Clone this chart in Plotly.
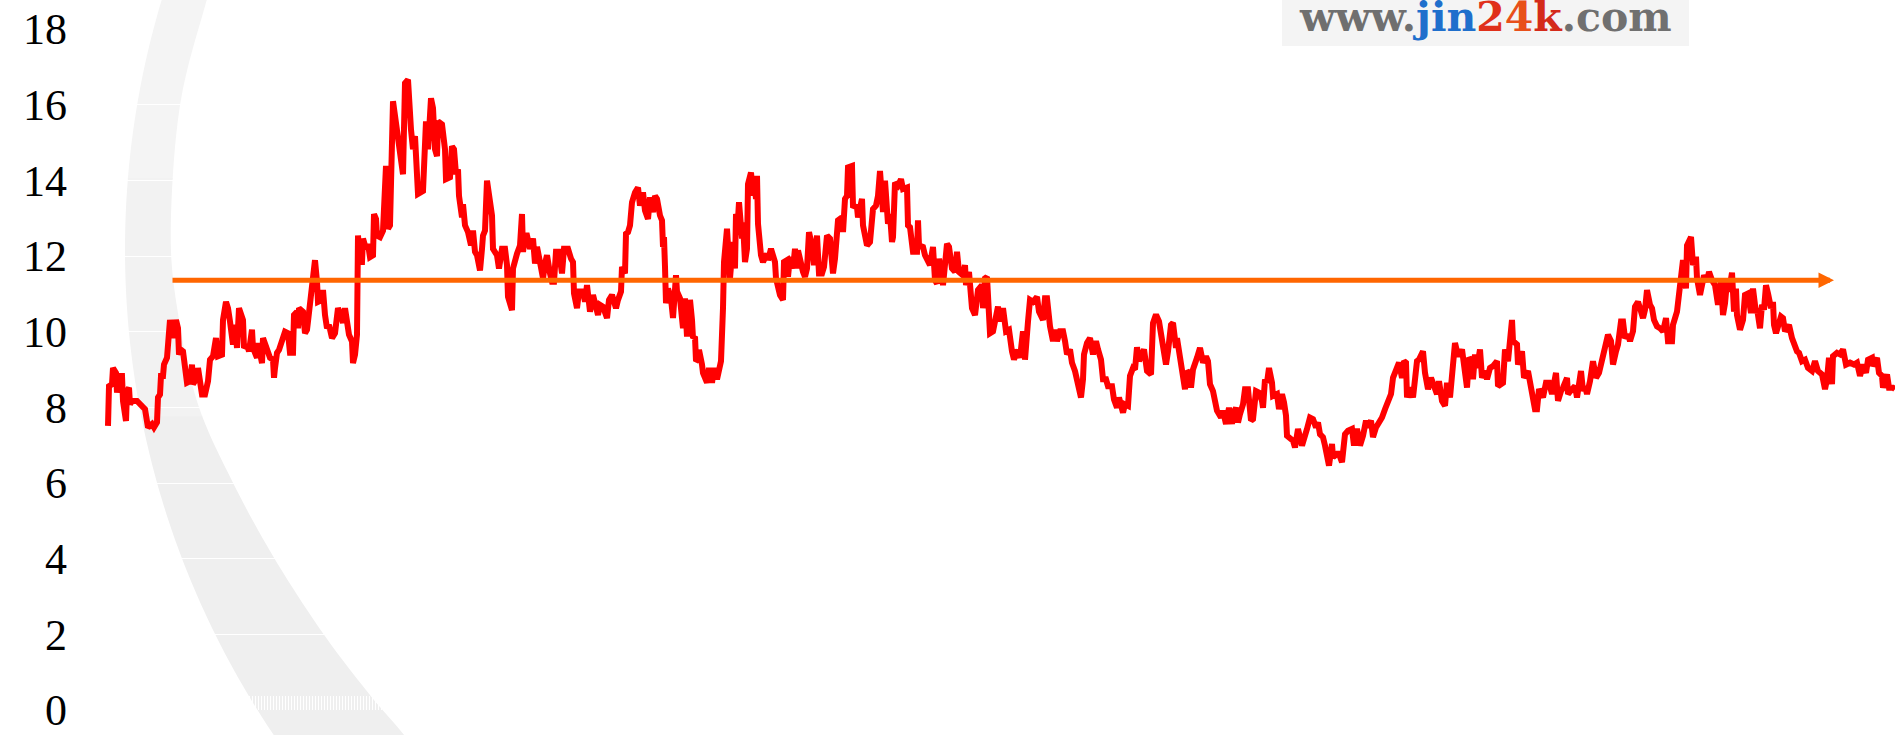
import math
import plotly.graph_objects as go

# ---------------- data ----------------
# T: trading-day index, V: ratio value
T = [0,1,4,5,8,9,12,14,15,18,19,21,22,24,29,32,37,40,44,46,49,50,52,53,55,56,59,62,65,68,70,71,73,75,77,79,82,84,85,89,90,94,97,100,102,105,108,110,114,115,118,120,122,125,127,129,131,135,136,139,141,144,145,149,150,154,155,159,162,165,166,167,169,171,174,177,180,182,185,186,189,190,191,195,197,199,200,202,203,205,207,209,210,214,215,217,219,221,224,227,229,230,233,235,237,239,241,244,245,247,249,250,252,254,255,258,260,262,265,266,268,269,272,275,276,278,280,282,285,290,295,297,300,303,305,307,310,315,318,320,323,325,327,329,330,334,337,338,342,344,346,348,350,351,354,355,357,360,363,365,367,369,372,374,375,377,379,384,385,389,391,394,397,399,400,404,405,409,412,414,415,417,419,422,425,427,429,432,435,437,439,442,444,446,448,451,454,456,460,463,465,466,469,471,475,477,479,482,
     485,490,492,495,499,501,504,505,508,510,513,514,517,518,520,522,524,527,530,532,535,537,540,542,545,547,549,552,554,555,556,557,558,560,563,565,568,569,572,575,577,579,582,584,585,587,588,590,591,594,595,599,601,604,606,609,613,615,616,619,622,625,627,628,630,631,634,635,637,639,640,643,645,646,648,649,650,653,655,659,660,663,665,667,668,672,675,676,679,680,682,685,687,689,690,693,695,697,699,701,704,706,709,711,714,716,719,722,725,727,729,730,734,735,737,739,740,744,745,749,750,754,755,757,759,762,763,765,768,770,772,774,775,777,779,780,782,784,785,787,790,793,795,799,800,802,804,805,809,810,811,815,817,819,822,825,827,829,831,834,835,839,841,844,847,849,851,855,857,858,861,864,867,870,874,875,877,879,882,885,887,890,892,895,898,901,904,906,909,912,915,917,920,922,925,929,931,935,937,939,
     942,945,947,949,952,955,957,959,962,964,967,969,973,975,976,979,982,985,988,990,993,995,998,1000,1004,1006,1009,1011,1015,1017,1020,1022,1025,1027,1029,1031,1034,1036,1039,1043,1045,1048,1051,1054,1056,1058,1060,1063,1065,1068,1069,1072,1075,1077,1079,1081,1083,1085,1089,1092,1095,1098,1100,1102,1105,1107,1109,1113,1115,1118,1121,1124,1125,1128,1130,1132,1135,1137,1140,1143,1145,1148,1151,1154,1155,1157,1159,1161,1164,1165,1169,1171,1174,1176,1178,1179,1182,1185,1187,1190,1194,1197,1199,1202,1205,1208,1210,1212,1215,1217,1219,1221,1224,1225,1229,1231,1234,1235,1237,1240,1244,1246,1249,1252,1255,1258,1260,1263,1265,1268,1270,1274,1277,1280,1283,1285,1287,1291,1294,1296,1298,1299,1302,1305,1307,1309,1311,1315,1317,1320,1323,1325,1329,1331,1334,1337,1339,1342,1345,1347,1349,1351,1354,1356,1359,1361,1364,1365,1367,1369,1372,1374,1377,1379,1382,1385,1389,1390,
     1395,1397,1400,1404,1405,1409,1410,1414,1416,1420,1424,1427,1429,1431,1435,1438,1441,1444,1448,1450,1453,1455,1459,1460,1464,1467,1469,1473,1475,1477,1479,1482,1485,1488,1491,1495,1497,1500,1503,1505,1508,1510,1513,1515,1517,1520,1522,1525,1527,1530,1532,1535,1537,1539,1542,1544,1546,1549,1552,1555,1558,1560,1564,1565,1569,1572,1575,1578,1579,1583,1585,1588,1589,1592,1596,1599,1601,1604,1607,1610,1613,1615,1617,1619,1621,1624,1626,1628,1629,1632,1635,1637,1640,1643,1645,1648,1649,1652,1654,1656,1658,1660,1663,1665,1666,1668,1670,1673,1675,1677,1679,1681,1684,1686,1689,1691,1694,1697,1700,1704,1707,1710,1714,1717,1719,1721,1724,1725,1729,1732,1735,1738,1742,1746,1749,1752,1755,1758,1760,1764,1765,1769,1771,1774,1775,1779,1781,1785,1787]

V = [7.51,8.56,8.61,9.04,8.91,8.39,8.83,8.83,8.17,7.64,8.43,8.52,8.08,8.17,8.17,8.08,7.95,7.47,7.56,7.47,7.60,8.26,8.34,8.83,8.83,9.13,9.31,10.31,9.83,10.31,10.09,9.39,9.52,9.48,8.83,8.65,8.69,9.13,8.61,8.78,9.04,8.34,8.34,8.69,9.26,9.35,9.83,9.35,9.39,10.31,10.79,10.62,10.27,9.66,10.18,9.57,10.62,10.31,9.57,9.66,9.48,10.05,9.57,9.31,9.70,9.17,9.83,9.57,9.31,9.26,8.78,9.04,9.44,9.52,9.74,10.00,9.96,9.44,9.44,10.44,10.53,10.09,10.62,10.53,9.96,10.05,10.27,10.79,11.23,11.41,11.89,11.32,10.79,10.84,11.10,10.44,10.09,10.18,9.83,9.96,10.36,10.62,10.44,10.23,10.62,10.18,9.92,9.74,9.17,9.39,9.92,12.54,11.84,11.84,12.46,12.19,12.32,11.97,12.02,13.11,12.98,12.54,12.50,12.67,13.72,14.38,12.72,12.81,16.09,14.99,14.16,16.57,16.66,15.34,14.82,15.17,13.64,13.72,15.56,14.82,16.17,15.91,14.82,14.64,15.56,15.48,14.82,14.03,14.08,14.90,14.82,14.16,14.29,13.59,13.02,13.37,12.81,12.63,12.28,12.67,12.11,12.02,11.62,12.19,12.54,12.67,13.99,13.07,12.19,12.02,11.67,12.19,12.19,11.76,10.92,10.57,11.67,12.06,12.28,13.11,12.11,12.54,12.54,12.19,12.46,11.80,12.24,11.84,11.41,11.80,12.02,11.54,11.32,11.32,12.11,12.11,11.54,12.19,12.19,11.93,11.84,11.01,10.62,11.06,11.06,10.79,11.23,10.53,
     10.97,10.44,10.71,10.66,10.36,10.84,10.97,10.88,10.62,10.84,11.06,11.71,11.54,12.59,12.63,12.81,13.42,13.68,13.81,13.33,13.68,13.20,12.98,13.55,13.16,13.59,13.51,13.07,12.94,12.24,12.50,11.71,10.75,11.14,10.88,10.36,11.49,11.06,10.88,10.09,10.88,9.87,10.84,10.31,9.83,9.87,9.22,9.26,9.52,9.13,8.91,8.65,9.04,8.65,9.04,8.74,9.22,10.62,11.84,12.72,11.41,12.37,11.67,13.11,12.98,13.42,12.46,12.89,11.84,12.19,13.90,14.21,13.59,14.03,13.51,14.12,12.85,12.02,11.84,12.06,11.89,12.19,11.93,11.84,11.41,10.97,10.84,11.84,11.89,11.45,11.97,11.67,12.19,11.67,12.15,11.67,11.58,11.45,11.67,12.63,12.28,11.76,12.54,11.54,11.54,11.71,12.54,12.46,11.54,11.93,12.46,12.94,13.02,12.63,13.51,13.59,14.34,14.38,13.33,13.29,13.02,13.51,12.81,12.50,12.28,12.37,12.67,13.24,13.33,13.59,14.25,13.59,13.16,13.99,13.24,12.85,13.11,12.37,12.50,13.94,13.86,14.03,13.77,13.81,12.81,12.76,12.37,12.11,12.11,12.94,12.28,12.24,12.02,11.93,11.76,12.24,11.36,11.27,11.93,11.41,11.23,12.32,12.24,11.67,11.58,12.11,11.58,11.49,11.76,11.23,11.58,10.62,10.44,11.10,11.23,10.62,11.41,11.45,9.96,10.01,10.31,10.66,10.27,10.62,10.01,10.05,9.48,9.26,9.52,9.31,10.01,9.26,10.27,10.84,10.79,10.92,10.53,10.31,10.88,10.88,
     10.14,9.75,10.05,9.75,10.01,10.01,9.75,9.40,9.53,9.18,8.96,8.65,8.26,8.74,9.40,9.70,9.83,9.40,9.75,9.53,9.26,8.74,8.74,8.56,8.56,8.21,7.99,8.26,7.86,8.08,8.04,8.83,9.04,9.00,9.59,9.22,9.48,9.53,8.96,8.87,10.23,10.45,10.27,9.83,9.53,9.13,9.48,10.18,10.23,9.57,9.83,9.22,8.78,8.48,8.96,8.91,8.52,9.00,9.31,9.57,9.18,9.35,9.22,8.61,8.43,8.13,7.91,7.73,7.91,7.56,7.99,7.56,7.82,7.99,7.60,7.82,8.08,8.48,8.48,7.65,7.69,8.43,8.39,8.17,7.99,8.74,8.65,9.04,8.65,8.30,8.35,7.95,8.35,8.13,7.78,7.25,7.16,7.12,6.94,7.43,6.99,7.21,7.43,7.73,7.69,7.47,7.60,7.29,7.21,6.99,6.68,6.46,7.03,6.68,6.77,6.77,6.55,6.94,7.29,7.38,7.43,6.99,7.43,6.99,7.25,7.65,7.47,7.65,7.21,7.47,7.56,7.73,7.95,8.21,8.35,8.78,8.96,9.18,8.78,9.22,9.18,8.26,8.52,8.26,8.74,9.22,9.26,9.48,8.91,8.48,8.78,8.61,8.35,8.69,8.17,8.04,8.65,8.26,8.96,9.70,9.48,9.35,9.53,9.13,8.52,9.31,9.22,8.74,9.40,9.04,9.53,8.78,8.96,8.74,9.04,9.09,9.22,8.56,
     8.65,9.53,9.22,10.31,9.75,9.66,9.13,9.48,8.78,8.96,8.26,7.95,7.95,8.48,8.26,8.65,8.65,8.35,8.91,8.17,8.43,8.52,8.78,8.35,8.48,8.56,8.26,8.96,8.43,8.56,8.35,8.69,9.22,8.78,8.91,9.31,9.66,9.92,9.75,9.13,9.48,9.66,10.27,10.27,9.83,9.92,9.75,10.01,10.66,10.79,10.62,10.36,10.58,11.10,10.71,10.62,10.31,10.14,10.09,10.01,10.36,9.75,9.75,10.18,10.53,11.14,11.89,11.14,12.28,12.50,11.76,11.98,11.41,10.97,11.49,11.32,11.58,11.36,11.23,10.71,11.32,10.44,10.75,11.32,11.06,11.56,10.53,11.14,10.44,10.05,10.31,10.97,11.01,10.49,11.14,10.49,10.62,10.09,10.71,10.58,11.23,11.01,10.62,10.79,10.18,9.96,10.14,10.40,10.36,10.01,10.09,10.18,9.83,9.66,9.48,9.44,9.22,9.26,9.04,8.96,9.22,8.96,8.87,8.48,8.74,9.31,8.61,9.35,9.44,9.40,9.53,9.13,9.18,9.13,9.18,8.83,9.13,8.91,9.26,9.31,9.09,9.31,8.91,8.83,8.52,8.87,8.52,8.52,8.48]

AVG_LEVEL = 11.36          # level of the orange arrow
ARROW_FROM = 63            # day index where the arrow starts
ARROW_TO = 1726            # day index of the arrow tip

Y_TICKS = [0, 2, 4, 6, 8, 10, 12, 14, 16, 18]
Y_LABELS = [str(v) for v in Y_TICKS]

# ---------------- layout geometry ----------------
W, H = 1895, 735
ML, MR, MT, MB = 72, 0, 29, 20
PLOT_W = W - ML - MR
PLOT_H = H - MT - MB
X_RANGE = [-36, 1787]


def px2paper(px, py):
    return (px - ML) / PLOT_W, (H - MB - py) / PLOT_H


def catmull(points, n=8):
    out = []
    pts = [points[0]] + points + [points[-1]]
    for i in range(1, len(pts) - 2):
        p0, p1, p2, p3 = pts[i - 1], pts[i], pts[i + 1], pts[i + 2]
        for k in range(n):
            t = k / n
            t2, t3 = t * t, t * t * t
            x = 0.5 * ((2 * p1[0]) + (-p0[0] + p2[0]) * t + (2 * p0[0] - 5 * p1[0] + 4 * p2[0] - p3[0]) * t2 + (-p0[0] + 3 * p1[0] - 3 * p2[0] + p3[0]) * t3)
            y = 0.5 * ((2 * p1[1]) + (-p0[1] + p2[1]) * t + (2 * p0[1] - 5 * p1[1] + 4 * p2[1] - p3[1]) * t2 + (-p0[1] + 3 * p1[1] - 3 * p2[1] + p3[1]) * t3)
            out.append((x, y))
    out.append(points[-1])
    return out


OCX, OCY, ORAD = 1004.0, 251.0, 879.0
INNER = catmull([(211, -12), (206.7, 0), (180, 105.5), (170.7, 234), (178.7, 320),
                 (198.3, 408), (233.3, 486.7), (275, 563.3), (323.3, 638.3),
                 (370, 700), (400, 735), (409, 748)])


def outer_x(py):
    return OCX - math.sqrt(ORAD ** 2 - (py - OCY) ** 2)


def inner_x(py):
    for (xa, ya), (xb, yb) in zip(INNER[:-1], INNER[1:]):
        if ya <= py <= yb and yb > ya:
            return xa + (xb - xa) * (py - ya) / (yb - ya)
    return INNER[0][0] if py < INNER[0][1] else INNER[-1][0]


def band_path(ya, yb, n=40):
    ys = [ya + i * (yb - ya) / n for i in range(n + 1)]
    pts = [px2paper(outer_x(y), y) for y in ys] + [px2paper(inner_x(y), y) for y in reversed(ys)]
    return "M " + " L ".join(f"{x:.5f},{y:.5f}" for x, y in pts) + " Z"


fig = go.Figure()

fig.add_trace(go.Scatter(
    x=T, y=V, mode="lines",
    line=dict(color="#ff0000", width=6),
    hoverinfo="x+y", showlegend=False,
))

fig.add_annotation(
    x=ARROW_TO, y=AVG_LEVEL, ax=ARROW_FROM, ay=AVG_LEVEL,
    xref="x", yref="y", axref="x", ayref="y",
    text="", showarrow=True, arrowhead=2, arrowsize=0.62,
    arrowwidth=5, arrowcolor="#ff6600",
)

# decorative grey crescent, slightly lighter towards the top
shapes = []
for ya, yb, col in [(-12, 180, "#f4f4f4"), (179, 420, "#f2f2f2"), (419, 748, "#efefef")]:
    shapes.append(dict(type="path", path=band_path(ya, yb), xref="paper", yref="paper",
                       fillcolor=col, line=dict(width=0), layer="below"))

# watermark box
x0, y0 = px2paper(1282, -5)
x1, y1 = px2paper(1689, 46)
shapes.append(dict(type="rect", xref="paper", yref="paper", x0=x0, x1=x1, y0=y1, y1=y0,
                   fillcolor="#f4f4f4", line=dict(width=0), layer="below"))

wx, wy = px2paper(1485, 17)
fig.add_annotation(
    x=wx, y=wy, xref="paper", yref="paper", xanchor="center", yanchor="middle",
    showarrow=False,
    text=('<span style="color:#6f6f6f">www.</span>'
          '<span style="color:#1f6fcc">jin</span>'
          '<span style="color:#e0301a">2</span>'
          '<span style="color:#e8501a">4</span>'
          '<span style="color:#d42a1a">k</span>'
          '<span style="color:#707070">.com</span>'),
    font=dict(family="DejaVu Serif", size=41, weight="bold"),
)

fig.update_layout(
    width=W, height=H,
    margin=dict(l=ML, r=MR, t=MT, b=MB, pad=0),
    paper_bgcolor="white", plot_bgcolor="white",
    shapes=shapes,
    showlegend=False,
    xaxis=dict(range=X_RANGE, showgrid=False, zeroline=False, showline=False,
               showticklabels=False, ticks="inside", ticklen=14, tickwidth=1,
               tickcolor="white", dtick=3, tick0=0),
    yaxis=dict(range=[0, 18], tickvals=Y_TICKS, ticktext=Y_LABELS,
               showgrid=True, gridcolor="white", gridwidth=1,
               zeroline=False, showline=False, ticks="",
               ticklabeloverflow="allow", ticklabelstandoff=4,
               tickfont=dict(family="Liberation Serif", size=44, color="black")),
)

fig.write_html("out.html", include_plotlyjs=True,
               config={"displayModeBar": False},
               post_script="document.body.style.margin='0';document.body.style.overflow='hidden';")
